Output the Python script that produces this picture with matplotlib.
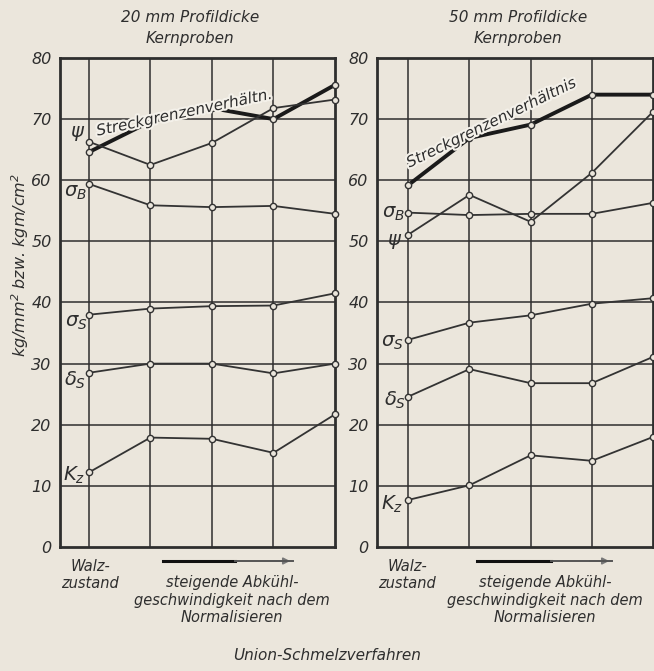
import numpy as np
import matplotlib.pyplot as plt
import matplotlib.patheffects as pe

# Abkühlstufen: Walzzustand + vier Normalisierstufen
stufen = [0, 1, 2, 3, 4]

# 20 mm Profildicke
sv_20 = [64.6, 69.6, 71.8, 70.0, 75.6]     # Streckgrenzenverhältnis
psi_20 = [66.3, 62.5, 66.1, 71.8, 73.2]
sigB_20 = [59.4, 55.9, 55.6, 55.8, 54.5]
sigS_20 = [38.0, 39.0, 39.4, 39.5, 41.5]
delS_20 = [28.5, 30.0, 30.0, 28.4, 30.0]
kz_20 = [12.2, 17.9, 17.7, 15.4, 21.7]

# 50 mm Profildicke
sv_50 = [59.2, 66.9, 69.1, 74.0, 74.0]
psi_50 = [51.1, 57.6, 53.2, 61.2, 71.2]
sigB_50 = [54.7, 54.3, 54.5, 54.5, 56.3]
sigS_50 = [33.9, 36.7, 37.9, 39.8, 40.7]
delS_50 = [24.6, 29.1, 26.8, 26.8, 31.1]
kz_50 = [7.7, 10.1, 15.0, 14.1, 18.0]

yticks = [0, 10, 20, 30, 40, 50, 60, 70, 80]

BG = '#ebe6dc'
INK = '#2e2e2e'

plt.rcParams['font.family'] = ['DejaVu Sans']
plt.rcParams['font.style'] = 'oblique'
plt.rcParams['mathtext.fontset'] = 'dejavusans'

fig = plt.figure(figsize=(6.54, 6.71), dpi=100, facecolor=BG)
ax1 = fig.add_axes([0.0917, 0.1848, 0.4205, 0.7288])
ax2 = fig.add_axes([0.5765, 0.1848, 0.4220, 0.7288])


def panel(ax, sv, psi, sigB, sigS, delS, kz, xmin):
    ax.set_facecolor(BG)
    ax.set_xlim(xmin, 4)
    ax.set_ylim(0, 80)
    for y in yticks[1:]:
        ax.axhline(y, color=INK, lw=1.1, zorder=1)
    for x in stufen[:-1]:
        ax.axvline(x, color=INK, lw=1.1, zorder=1)
    for s in ax.spines.values():
        s.set_linewidth(2)
        s.set_color(INK)
    ax.set_xticks([])
    ax.set_yticks(yticks)
    ax.tick_params(axis='y', length=0, pad=6, labelsize=11.5, colors=INK)
    for lab in ax.get_yticklabels():
        lab.set_fontstyle('oblique')

    ax.plot(stufen, sv, color='#1a1a1a', lw=2.8, zorder=3, clip_on=False)
    for ser in (psi, sigB, sigS, delS, kz):
        ax.plot(stufen, ser, color='#333333', lw=1.3, zorder=3,
                marker='o', ms=4.5, mfc=BG, mec='#333333', mew=1.0,
                clip_on=False)
    ax.plot(stufen, sv, ls='none', marker='o', ms=4.5, mfc=BG,
            mec='#333333', mew=1.0, zorder=4, clip_on=False)


panel(ax1, sv_20, psi_20, sigB_20, sigS_20, delS_20, kz_20, -0.47)
panel(ax2, sv_50, psi_50, sigB_50, sigS_50, delS_50, kz_50, -0.51)

# Kurvenbezeichnungen
lab_kw = dict(fontsize=14, color=INK, ha='center', va='center', zorder=5)
ax1.text(-0.18, 67.6, r'$\psi$', **lab_kw)
ax1.text(-0.22, 58.0, r'$\sigma_B$', **lab_kw)
ax1.text(-0.20, 36.8, r'$\sigma_S$', **lab_kw)
ax1.text(-0.22, 27.2, r'$\delta_S$', **lab_kw)
ax1.text(-0.24, 11.8, r'$K_z$', **lab_kw)

ax2.text(-0.24, 54.6, r'$\sigma_B$', **lab_kw)
ax2.text(-0.22, 50.0, r'$\psi$', **lab_kw)
ax2.text(-0.26, 33.4, r'$\sigma_S$', **lab_kw)
ax2.text(-0.22, 24.0, r'$\delta_S$', **lab_kw)
ax2.text(-0.26, 7.0, r'$K_z$', **lab_kw)

halo = [pe.withStroke(linewidth=3, foreground='#f4f1ea')]
sv_kw = dict(color=INK, ha='left', va='bottom', zorder=6,
             rotation_mode='anchor', path_effects=halo)
ax1.text(0.15, 66.8, 'Streckgrenzenverhältn.', rotation=12, fontsize=11,
         **sv_kw)
ax2.text(0.04, 61.6, 'Streckgrenzenverhältnis', rotation=26, fontsize=11,
         **sv_kw)

# Titel
title_kw = dict(fontsize=11, color=INK, ha='center', va='center')
fig.text(190 / 654, 1 - 18 / 671, '20 mm Profildicke', **title_kw)
fig.text(190 / 654, 1 - 39 / 671, 'Kernproben', **title_kw)
fig.text(518 / 654, 1 - 18 / 671, '50 mm Profildicke', **title_kw)
fig.text(518 / 654, 1 - 39 / 671, 'Kernproben', **title_kw)

fig.text(20 / 654, 1 - 265 / 671, 'kg/mm$^2$ bzw. kgm/cm$^2$', rotation=90,
         fontsize=11.5, color=INK, ha='center', va='center')

# Beschriftung unter den Feldern
bot_kw = dict(fontsize=10.5, color=INK, ha='center', va='center',
              linespacing=1.2)
for x0, x_mid, a0, a1 in ((90, 232, 163, 293), (407, 545, 477, 612)):
    fig.text(x0 / 654, 1 - 575 / 671, 'Walz-\nzustand', **bot_kw)
    fig.text(x_mid / 654, 1 - 600 / 671,
             'steigende Abkühl-\ngeschwindigkeit nach dem\nNormalisieren',
             **bot_kw)
    y_arr = 1 - 561 / 671
    xm = a0 + 0.55 * (a1 - a0)
    fig.add_artist(plt.Line2D([a0 / 654, xm / 654], [y_arr, y_arr],
                              color='#111111', lw=2.2))
    fig.add_artist(plt.Line2D([xm / 654, a1 / 654], [y_arr, y_arr],
                              color='#555555', lw=1.4))
    plt.annotate('', xy=(a1 / 654, y_arr), xytext=((a1 - 25) / 654, y_arr),
                 xycoords='figure fraction', textcoords='figure fraction',
                 arrowprops=dict(arrowstyle='-|>', color='#777777', lw=1.2,
                                 mutation_scale=10))

fig.text(327 / 654, 1 - 655 / 671, 'Union-Schmelzverfahren', fontsize=11,
         color=INK, ha='center', va='center')

fig.savefig('out.png', dpi=100, facecolor=BG)
